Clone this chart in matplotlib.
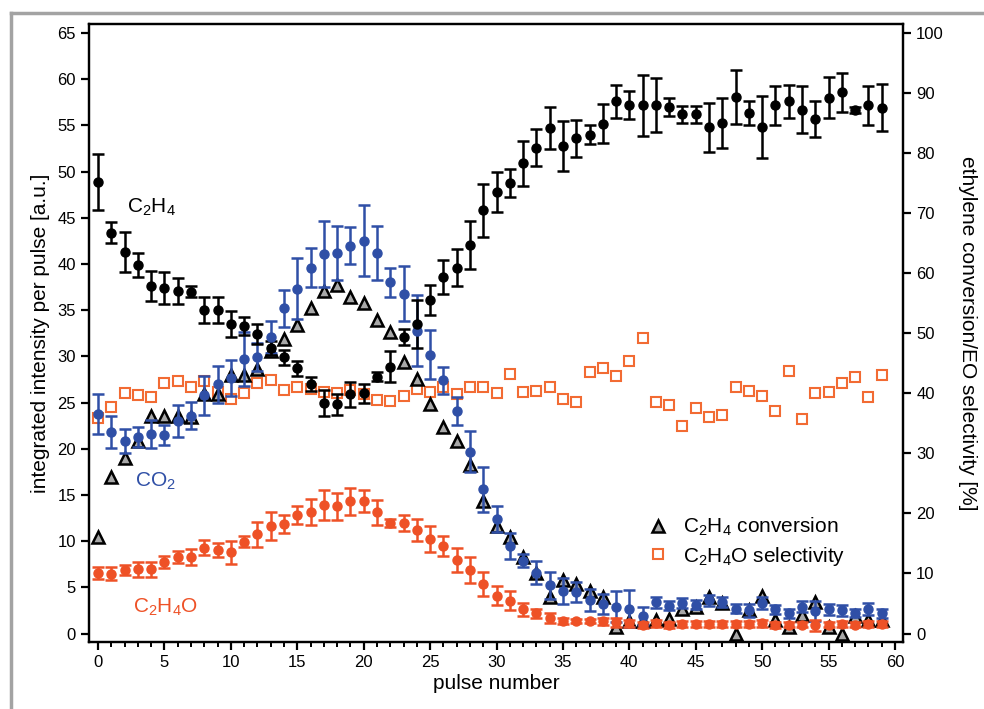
import numpy as np
import matplotlib
matplotlib.use("Agg")
import matplotlib.pyplot as plt
from matplotlib.lines import Line2D
from matplotlib.ticker import MultipleLocator

plt.rcParams['font.family'] = ['Liberation Sans', 'DejaVu Sans']
plt.rcParams['mathtext.default'] = 'regular'

# pulse numbers
pulse = np.arange(60)

# integrated intensities (left axis)
c2h4 = [48.9, 43.4, 41.3, 39.9, 37.6, 37.4, 37.1, 37.0, 35.0, 35.0,
        33.5, 33.3, 32.4, 30.9, 29.9, 28.7, 27.0, 25.0, 24.8, 25.9,
        26.0, 27.8, 28.9, 32.1, 33.5, 36.1, 38.6, 39.6, 42.1, 45.8,
        47.8, 48.8, 50.9, 52.6, 54.7, 52.8, 53.6, 54.0, 55.2, 57.6,
        57.2, 57.2, 57.2, 57.0, 56.2, 56.2, 54.8, 55.3, 58.1, 56.3,
        54.8, 57.2, 57.6, 56.7, 55.7, 58.0, 58.6, 56.7, 57.2, 56.9]
c2h4_err = [3.0, 1.1, 2.2, 1.3, 1.6, 1.7, 1.4, 0.6, 1.4, 1.4,
            1.4, 1.0, 1.1, 0.8, 0.8, 0.85, 0.8, 1.4, 1.1, 1.35,
            1.0, 0.5, 1.65, 0.85, 2.6, 1.65, 1.85, 2.0, 2.6, 2.85,
            2.15, 1.5, 2.45, 2.0, 2.3, 2.7, 2.0, 1.0, 2.1, 1.8,
            1.55, 3.3, 2.9, 1.0, 0.95, 0.9, 2.65, 2.7, 2.95, 1.3,
            3.35, 2.1, 1.8, 2.55, 1.95, 2.2, 2.1, 0.3, 2.1, 2.55]

co2 = [23.8, 21.8, 20.8, 21.3, 21.6, 21.5, 23.0, 23.6, 25.8, 27.0,
       27.7, 29.7, 29.9, 32.1, 35.2, 37.3, 39.6, 41.1, 41.2, 42.0,
       42.5, 41.2, 38.0, 36.8, 32.8, 30.2, 27.4, 24.1, 19.7, 15.6,
       12.4, 9.5, 7.9, 6.6, 5.2, 4.6, 4.5, 3.6, 3.2, 2.9,
       2.7, 1.9, 3.4, 3.0, 3.3, 3.1, 3.6, 3.4, 2.7, 2.5,
       3.3, 2.6, 2.2, 2.9, 2.4, 2.6, 2.5, 2.2, 2.6, 2.2]
co2_err = [2.15, 1.75, 1.3, 1.1, 1.5, 1.05, 1.7, 1.45, 2.1, 2.0,
           1.95, 2.95, 1.5, 1.75, 2.0, 3.3, 2.1, 3.6, 2.9, 2.05,
           3.85, 2.9, 1.55, 3.0, 3.8, 2.65, 1.5, 1.55, 2.2, 2.45,
           1.4, 1.4, 0.75, 1.2, 1.5, 1.4, 1.05, 1.2, 1.05, 1.7,
           2.0, 1.0, 0.6, 0.5, 0.55, 0.5, 0.6, 0.55, 0.5, 0.7,
           0.7, 0.45, 0.5, 0.6, 1.1, 0.6, 0.6, 0.45, 0.65, 0.5]

eo = [6.6, 6.45, 6.9, 6.95, 6.95, 7.7, 8.3, 8.25, 9.3, 9.05,
      8.8, 9.95, 10.75, 11.65, 11.85, 12.85, 13.2, 13.9, 13.75, 14.3,
      14.3, 13.1, 11.95, 11.95, 11.2, 10.25, 9.5, 7.95, 6.9, 5.35,
      4.1, 3.55, 2.6, 2.2, 1.7, 1.35, 1.35, 1.35, 1.3, 1.2,
      1.1, 0.9, 1.1, 0.9, 1.0, 1.0, 1.05, 1.0, 1.0, 1.0,
      1.1, 0.9, 0.95, 0.95, 0.9, 0.95, 1.0, 0.95, 1.0, 1.0]
eo_err = [0.65, 0.7, 0.55, 0.8, 0.8, 0.65, 0.65, 0.85, 0.85, 0.75,
          1.25, 0.6, 1.35, 1.5, 1.0, 1.0, 1.4, 1.6, 1.5, 1.45,
          1.2, 1.35, 0.45, 0.85, 1.15, 1.4, 1.1, 1.3, 1.4, 1.3,
          1.0, 1.05, 0.7, 0.5, 0.55, 0.35, 0.2, 0.2, 0.35, 0.5,
          0.4, 0.3, 0.35, 0.3, 0.3, 0.3, 0.3, 0.3, 0.3, 0.3,
          0.35, 0.3, 0.3, 0.3, 0.6, 0.3, 0.3, 0.3, 0.3, 0.3]

# conversion / selectivity (right axis, %)
conversion = [16.0, 26.1, 29.2, 32.0, 36.2, 36.2, 36.2, 36.0, 39.9, 39.9,
              43.1, 43.1, 44.0, 47.1, 49.1, 51.4, 54.2, 57.1, 58.1, 56.1,
              55.1, 52.2, 50.2, 45.3, 42.4, 38.2, 34.4, 32.1, 28.1, 22.1,
              17.9, 16.1, 12.8, 10.1, 6.1, 8.9, 8.25, 7.0, 6.1, 1.0,
              2.0, 2.1, 2.25, 2.35, 4.0, 4.35, 6.0, 5.0, 0.0, 3.9,
              6.3, 2.25, 1.1, 3.1, 5.3, 1.1, 0.0, 2.9, 2.25, 2.25]
selectivity = [35.9, 37.7, 40.0, 39.75, 39.4, 41.8, 42.0, 41.1, 42.0, 40.3,
               39.0, 40.0, 41.8, 42.25, 40.6, 41.0, 40.7, 40.3, 40.1, 40.5,
               39.9, 38.9, 38.75, 39.6, 40.7, 40.3, 41.0, 39.9, 41.1, 41.0,
               40.0, 43.2, 40.3, 40.4, 41.1, 39.0, 38.5, 43.6, 44.2, 42.9,
               45.4, 49.2, 38.5, 38.1, 34.6, 37.6, 36.1, 36.4, 41.1, 40.4,
               39.6, 37.1, 43.75, 35.75, 40.1, 40.25, 41.75, 42.75, 39.4, 43.1]

blue = '#2f4fa6'
red = '#ee5126'
orange = '#f26b33'

fig = plt.figure(figsize=(9.84, 7.09), dpi=100)
ax = fig.add_axes([0.0904, 0.0945, 0.8273, 0.8716])
ax2 = ax.twinx()

ylo, yhi = -0.92, 65.98
ax.set_xlim(-0.68, 60.6)
ax.set_ylim(ylo, yhi)
ax2.set_ylim(ylo * 100 / 65, yhi * 100 / 65)

ebk = dict(fmt='o', ms=6.5, elinewidth=1.8, capsize=4.5, capthick=1.8, zorder=3)
ax.errorbar(pulse, co2, yerr=co2_err, color=blue, **ebk)
ax.errorbar(pulse, eo, yerr=eo_err, color=red, **ebk)
ax.errorbar(pulse, c2h4, yerr=c2h4_err, color='black', **ebk)

ax2.plot(pulse, selectivity, 's', ms=7, mfc='white', mec=orange, mew=1.5,
         ls='none', label=r'C$_2$H$_4$O selectivity')
ax2.plot(pulse, conversion, '^', ms=9, mfc='#a8a8a8', mec='black', mew=1.8,
         ls='none', label=r'C$_2$H$_4$ conversion')

# left axis on top of the twin so the points are not hidden
ax.set_zorder(ax2.get_zorder() + 1)
ax.patch.set_visible(False)

ax.xaxis.set_major_locator(MultipleLocator(5))
ax.xaxis.set_minor_locator(MultipleLocator(1))
ax.set_yticks(np.arange(0, 66, 5))
ax2.set_yticks(np.arange(0, 101, 10))
ax.tick_params(axis='both', which='major', direction='out', length=6, width=1.6,
               labelsize=12)
ax.tick_params(axis='x', which='minor', direction='out', length=3.5, width=1.4)
ax.tick_params(axis='y', which='minor', left=False)
ax2.tick_params(axis='y', direction='out', length=6, width=1.6, labelsize=12)
for a in (ax, ax2):
    for s in a.spines.values():
        s.set_linewidth(1.6)

ax.set_xlabel('pulse number', fontsize=15, labelpad=3)
ax.set_ylabel('integrated intensity per pulse [a.u.]', fontsize=15, labelpad=5)
ax2.set_ylabel('ethylene conversion/EO selectivity [%]', fontsize=15,
               rotation=-90, labelpad=24)

ax.text(2.2, 45.6, r'C$_2$H$_4$', fontsize=15, color='black')
ax.text(2.8, 15.9, r'CO$_2$', fontsize=15, color=blue)
ax.text(2.6, 2.2, r'C$_2$H$_4$O', fontsize=15, color=red)

h, l = ax2.get_legend_handles_labels()
ax2.legend(h[::-1], l[::-1], loc='lower right', bbox_to_anchor=(0.952, 0.09),
           frameon=False, fontsize=15, handletextpad=0.5, labelspacing=0.3,
           handlelength=1.4)

# grey frame around the figure (top and left edges)
fig.add_artist(Line2D([11 / 984, 11 / 984], [0, 1 - 13 / 709], color='#a3a3a3',
                      lw=2.5, transform=fig.transFigure))
fig.add_artist(Line2D([11 / 984, 1], [1 - 13 / 709, 1 - 13 / 709], color='#a3a3a3',
                      lw=2.5, transform=fig.transFigure))

fig.savefig('out.png', dpi=100)
